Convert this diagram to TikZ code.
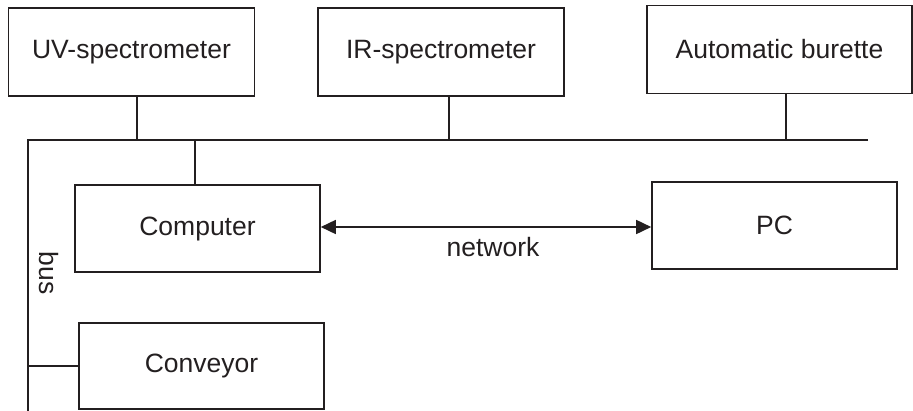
\documentclass[tikz,border=0pt]{standalone}
\usepackage{fontspec}
\setmainfont{Liberation Sans}
\usetikzlibrary{arrows.meta}
\definecolor{ink}{HTML}{231F20}
\begin{document}
\begin{tikzpicture}[x=1pt,y=-1pt,
  box/.style={draw=ink,line width=1.6pt,minimum width=246pt,minimum height=88pt,inner sep=0pt,text=ink,font=\fontsize{26.5}{30}\selectfont},
  wire/.style={draw=ink,line width=1.6pt},
  lbl/.style={text=ink,font=\fontsize{26.5}{30}\selectfont,inner sep=0pt}]
\useasboundingbox (0,0) rectangle (913,410);
\node[box] (uv) at (131.5,52) {UV-spectrometer};
\node[box] (ir) at (441,52) {IR-spectrometer};
\node[box,minimum width=265pt] (ab) at (779.5,49.5) {Automatic burette};
\node[box,minimum width=245pt,minimum height=87pt] (comp) at (197.5,228.5) {Computer};
\node[box,minimum width=245pt,minimum height=87pt] (pc) at (774.5,225.5) {PC};
\node[box,minimum width=245pt,minimum height=86pt] (conv) at (201.5,366) {Conveyor};
\coordinate (bl) at (28,140);
\coordinate (br) at (868,140);
\coordinate (bb) at (28,412);
\coordinate (s1) at (137,140);
\coordinate (s2) at (449,140);
\coordinate (s3) at (786,140);
\coordinate (s4) at (195,140);
\coordinate (cv) at (28,366);
\draw[wire] (br) -- (bl) -- (bb);
\draw[wire] (uv.south -| s1) -- (s1);
\draw[wire] (ir.south -| s2) -- (s2);
\draw[wire] (ab.south -| s3) -- (s3);
\draw[wire] (s4) -- (comp.north -| s4);
\draw[wire] (cv) -- (conv.west |- cv);
\coordinate (ay) at (0,227);
\draw[wire,{Triangle[length=15pt,width=14pt]}-{Triangle[length=15pt,width=14pt]}] (comp.east |- ay) -- (pc.west |- ay);
\node[lbl] (net) at (493,247) {network};
\node[lbl,rotate=-90] (bus) at (49,273) {bus};
\end{tikzpicture}
\end{document}
